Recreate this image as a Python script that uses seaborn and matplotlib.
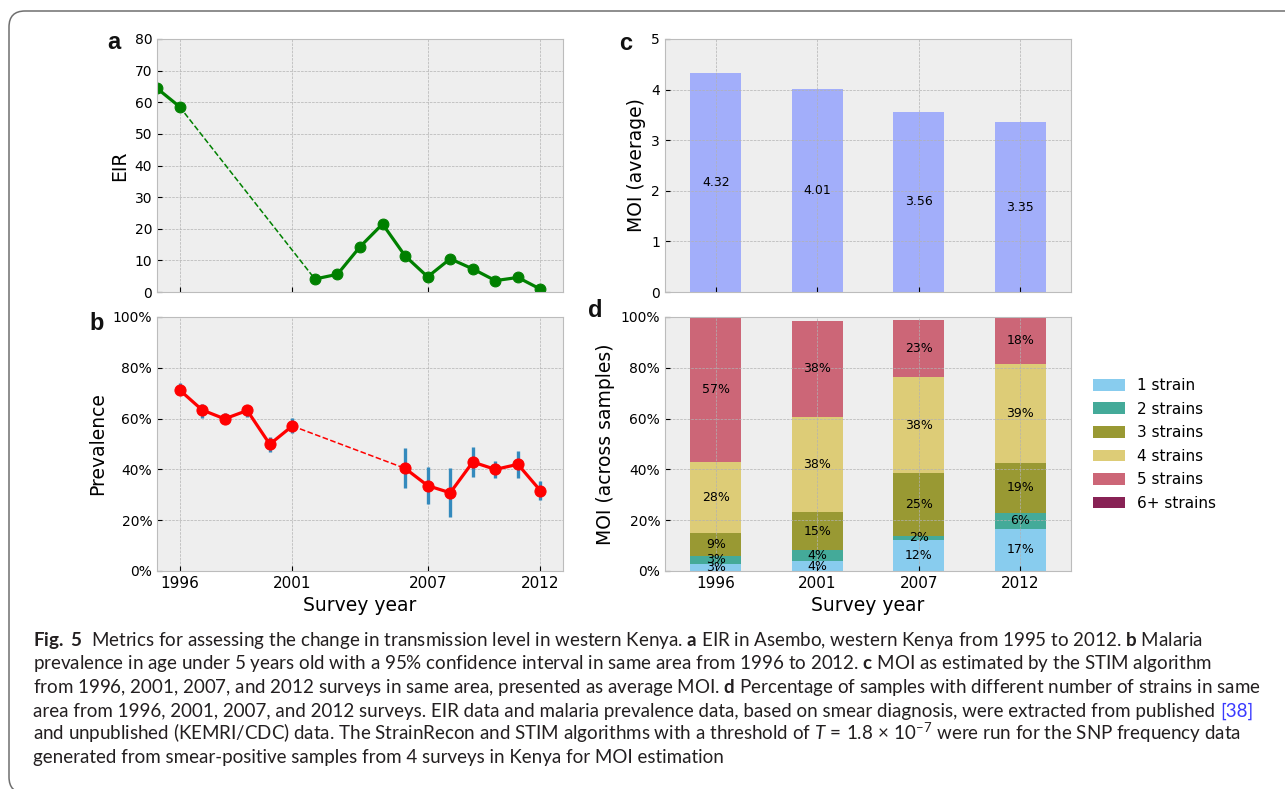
import matplotlib
matplotlib.use("Agg")
import matplotlib.pyplot as plt
from matplotlib.patches import FancyBboxPatch, Patch
from matplotlib.ticker import PercentFormatter, MultipleLocator
from matplotlib.transforms import IdentityTransform
import seaborn as sns

# ---------------- data ----------------
eir_years = [1995, 1996, 2002, 2003, 2004, 2005, 2006, 2007, 2008, 2009, 2010, 2011, 2012]
eir_values = [64.4, 58.6, 4.1, 5.6, 14.3, 21.5, 11.4, 4.8, 10.5, 7.3, 3.6, 4.6, 0.9]

prev_years = [1996, 1997, 1998, 1999, 2000, 2001, 2006, 2007, 2008, 2009, 2010, 2011, 2012]
prev_values = [71.3, 63.4, 59.9, 63.2, 49.9, 57.1, 40.4, 33.6, 30.8, 42.9, 40.0, 42.0, 31.6]
prev_low = [69.3, 60.1, 58.2, 60.5, 47.0, 54.2, 32.8, 26.3, 21.1, 37.1, 36.7, 36.7, 27.9]
prev_high = [73.9, 65.8, 62.1, 65.4, 52.6, 60.1, 48.3, 40.8, 40.4, 48.9, 43.3, 47.2, 35.4]

year_ticks = [1996, 2001, 2007, 2012]
survey_years = ["1996", "2001", "2007", "2012"]
moi_average = [4.32, 4.01, 3.56, 3.35]

strain_labels = ["1 strain", "2 strains", "3 strains", "4 strains", "5 strains", "6+ strains"]
strain_colors = ["#88CCEE", "#44AA99", "#999933", "#DDCC77", "#CC6677", "#882255"]
strain_1 = [2.9, 3.8, 12.1, 16.6]
strain_2 = [2.9, 4.3, 1.8, 6.4]
strain_3 = [9.1, 15.1, 24.7, 19.4]
strain_4 = [27.9, 37.6, 37.6, 39.2]
strain_5 = [57.2, 37.8, 22.6, 18.4]
strain_6 = [0.0, 0.0, 0.0, 0.0]
strain_shares = [strain_1, strain_2, strain_3, strain_4, strain_5, strain_6]

caption_lines = [
    r"$\mathbf{Fig.\ 5}$  Metrics for assessing the change in transmission level in western Kenya. "
    r"$\mathbf{a}$ EIR in Asembo, western Kenya from 1995 to 2012. $\mathbf{b}$ Malaria",
    r"prevalence in age under 5 years old with a 95% confidence interval in same area from 1996 to 2012. "
    r"$\mathbf{c}$ MOI as estimated by the STIM algorithm",
    r"from 1996, 2001, 2007, and 2012 surveys in same area, presented as average MOI. "
    r"$\mathbf{d}$ Percentage of samples with different number of strains in same",
    r"area from 1996, 2001, 2007, and 2012 surveys. EIR data and malaria prevalence data, "
    r"based on smear diagnosis, were extracted from published",
    r"and unpublished (KEMRI/CDC) data. The StrainRecon and STIM algorithms with a threshold of "
    r"$T\,=\,1.8\,\times\,10^{-7}$ were run for the SNP frequency data",
    r"generated from smear-positive samples from 4 surveys in Kenya for MOI estimation",
]
reference_tag = "[38]"

# ---------------- style ----------------
plt.style.use("bmh")
plt.rcParams.update({
    "font.family": ["DejaVu Sans"],
    "mathtext.fontset": "custom",
    "mathtext.rm": "Lato",
    "mathtext.bf": "Lato:bold",
    "mathtext.it": "Lato:italic",
    "axes.labelsize": 13.5,
    "xtick.labelsize": 11,
    "ytick.labelsize": 10,
    "axes.edgecolor": "#bcbcbc",
})

W, H = 1285, 789
fig = plt.figure(figsize=(W / 100, H / 100), dpi=100)


def add_axes_px(left, top, right, bottom):
    return fig.add_axes([left / W, 1 - bottom / H, (right - left) / W, (bottom - top) / H])


ax_a = add_axes_px(157, 39, 563, 292)
ax_b = add_axes_px(157, 317, 563, 571)
ax_c = add_axes_px(665, 39, 1071, 292)
ax_d = add_axes_px(665, 317, 1071, 571)

# ---------------- a: EIR ----------------
green = "#008000"
sns.lineplot(x=eir_years[:2], y=eir_values[:2], ax=ax_a, color=green, lw=2.3,
             marker="o", ms=7.8, mec=green)
sns.lineplot(x=eir_years[1:3], y=eir_values[1:3], ax=ax_a, color=green, lw=1.1, ls="--")
sns.lineplot(x=eir_years[2:], y=eir_values[2:], ax=ax_a, color=green, lw=2.3,
             marker="o", ms=7.8, mec=green)
ax_a.set_xlim(1995, 2013)
ax_a.set_ylim(0, 80)
ax_a.yaxis.set_major_locator(MultipleLocator(10))
ax_a.set_xticks(year_ticks)
ax_a.tick_params(labelbottom=False)
ax_a.set_ylabel("EIR")
ax_a.set_xlabel("")

# ---------------- b: prevalence ----------------
red = "#ff0000"
ax_b.vlines(prev_years, prev_low, prev_high, color="#348ABD", lw=2.4, zorder=1.8)
sns.lineplot(x=prev_years[:6], y=prev_values[:6], ax=ax_b, color=red, lw=2.3,
             marker="o", ms=8, mec=red, zorder=3)
sns.lineplot(x=prev_years[5:7], y=prev_values[5:7], ax=ax_b, color=red, lw=1.1, ls="--")
sns.lineplot(x=prev_years[6:], y=prev_values[6:], ax=ax_b, color=red, lw=2.3,
             marker="o", ms=8, mec=red, zorder=3)
ax_b.set_xlim(1995, 2013)
ax_b.set_ylim(0, 100)
ax_b.yaxis.set_major_locator(MultipleLocator(20))
ax_b.yaxis.set_major_formatter(PercentFormatter(100, decimals=0))
ax_b.set_xticks(year_ticks)
ax_b.set_xlabel("Survey year")
ax_b.set_ylabel("Prevalence")

# ---------------- c: average MOI ----------------
sns.barplot(x=survey_years, y=moi_average, ax=ax_c, color="#a2aefa", width=0.5,
            saturation=1, linewidth=0)
ax_c.bar_label(ax_c.containers[0], labels=[f"{v:.2f}" for v in moi_average],
               label_type="center", fontsize=9)
ax_c.set_ylim(0, 5)
ax_c.set_xlim(-0.5, 3.5)
ax_c.xaxis.grid(True)
ax_c.tick_params(labelbottom=False)
ax_c.set_ylabel("MOI (average)")

# ---------------- d: strain composition ----------------
bottoms = [0.0] * len(survey_years)
for label, color, shares in zip(strain_labels, strain_colors, strain_shares):
    sns.barplot(x=survey_years, y=shares, bottom=bottoms, ax=ax_d, color=color,
                width=0.5, saturation=1, linewidth=0)
    ax_d.bar_label(ax_d.containers[-1],
                   labels=[f"{round(v)}%" if v > 0 else "" for v in shares],
                   label_type="center", fontsize=9)
    bottoms = [b + s for b, s in zip(bottoms, shares)]
ax_d.set_ylim(0, 100)
ax_d.set_xlim(-0.5, 3.5)
ax_d.yaxis.set_major_locator(MultipleLocator(20))
ax_d.yaxis.set_major_formatter(PercentFormatter(100, decimals=0))
ax_d.xaxis.grid(True)
ax_d.set_xlabel("Survey year")
ax_d.set_ylabel("MOI (across samples)")

handles = [Patch(facecolor=c, edgecolor="none", label=l) for l, c in zip(strain_labels, strain_colors)]
fig.legend(handles=handles, loc="upper left", bbox_to_anchor=(1093 / W, 1 - 378 / H),
           frameon=False, fontsize=11, handlelength=2.1, handleheight=0.8,
           handletextpad=0.8, labelspacing=0.56, borderpad=0, borderaxespad=0)

# ---------------- panel letters ----------------
letter_kw = dict(fontsize=17, fontweight="bold", family=["Liberation Sans", "DejaVu Sans"],
                 ha="left", va="baseline", color="#111111")
fig.text(107 / W, 1 - 49 / H, "a", **letter_kw)
fig.text(89 / W, 1 - 330 / H, "b", **letter_kw)
fig.text(619 / W, 1 - 50 / H, "c", **letter_kw)
fig.text(588 / W, 1 - 317 / H, "d", **letter_kw)

# ---------------- caption ----------------
caption_kw = dict(family=["Lato", "DejaVu Sans"], color="#231f20", ha="left", va="baseline")
baselines = [646, 669.5, 693, 716.5, 740, 763.5]
x0 = 33
texts = [fig.text(x0 / W, 1 - y / H, s, fontsize=13, **caption_kw)
         for s, y in zip(caption_lines, baselines)]
tag = fig.text(0, 1 - baselines[3] / H, reference_tag, fontsize=13,
               family=["Lato", "DejaVu Sans"], color="#3a3aff", ha="left", va="baseline")

renderer = fig.canvas.get_renderer()


def place_tag():
    ext = texts[3].get_window_extent(renderer=renderer)
    gap = tag.get_fontsize() * 100 / 72 * 0.26
    tag.set_x((ext.x1 + gap) / W)


place_tag()
widest = max(t.get_window_extent(renderer=renderer).x1 for t in texts[2:5] + [tag])
scale = (1257 - x0) / (widest - x0)
for t in texts + [tag]:
    t.set_fontsize(13 * scale)
place_tag()

# frame around figure and caption
frame = FancyBboxPatch((9, -4), 1320, H - 11 + 4, boxstyle="round,pad=0,rounding_size=16",
                       transform=IdentityTransform(), facecolor="none",
                       edgecolor="#6f6f6f", linewidth=1.1)
fig.add_artist(frame)

fig.savefig("out.png", dpi=100)
